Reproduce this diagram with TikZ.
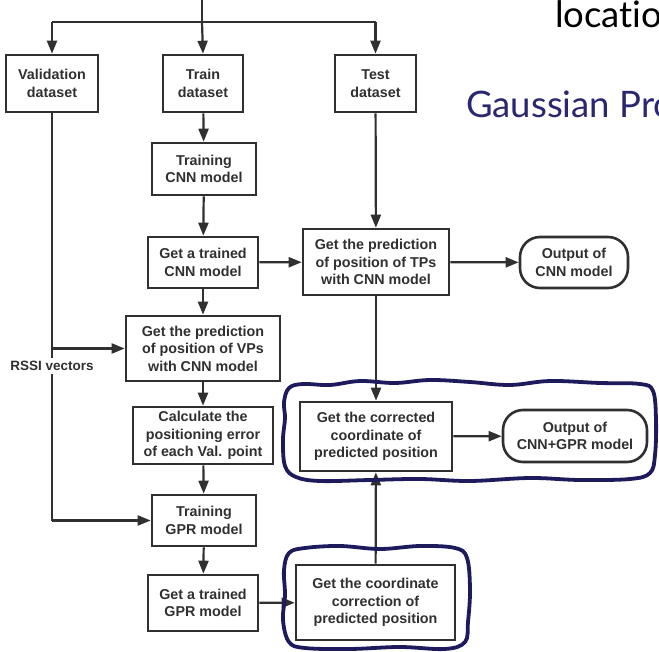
\documentclass[tikz,border=0pt]{standalone}
\usepackage{fontspec}
\setmainfont{Liberation Sans}
\newfontfamily\slidefont[Ligatures=NoCommon]{Lato}
\usetikzlibrary{arrows.meta}
\definecolor{ink}{HTML}{303030}
\definecolor{navy}{HTML}{1E1B5C}
\definecolor{titleblue}{HTML}{2A2670}
\tikzset{
  stepbox/.style={draw=ink, line width=2.6pt, fill=white, align=center,
    font=\fontsize{14.3}{17.5}\selectfont\bfseries, text=ink, inner sep=0pt},
  outbox/.style={stepbox, rounded corners=20pt},
  flow/.style={draw=ink, line width=2.2pt,
    -{Triangle[length=13pt,width=10pt]}},
  plain/.style={draw=ink, line width=2.2pt},
  ring/.style={draw=navy, line width=3.8pt, line join=round},
  slidetext/.style={anchor=base west, inner sep=0pt,
    font=\slidefont\fontsize{36.5}{42}\selectfont},
}
\begin{document}
\begin{tikzpicture}[x=1pt, y=-1pt]
\useasboundingbox (0,0) rectangle (659,652);
\begin{scope}
\clip (0,0) rectangle (659,652);

% slide text behind the chart
\node[slidetext] (loc) at (555,28) {location};
\node[slidetext, text=titleblue] (gpr) at (466,118) {Gaussian Process};

% process boxes
\node[stepbox, minimum width=92pt,  minimum height=57pt] (val)  at (52,83.5)  {Validation\\dataset};
\node[stepbox, minimum width=80pt,  minimum height=57pt] (trn)  at (203,83.5) {Train\\dataset};
\node[stepbox, minimum width=81pt,  minimum height=57pt] (tst)  at (375.5,83.5) {Test\\dataset};
\node[stepbox, minimum width=104pt, minimum height=52pt] (tcnn) at (204,169)  {Training\\CNN model};
\node[stepbox, minimum width=110pt, minimum height=51pt] (gcnn) at (203,262.5) {Get a trained\\CNN model};
\node[stepbox, minimum width=146pt, minimum height=66pt] (tps)  at (376,262)  {Get the prediction\\of position of TPs\\with CNN model};
\node[outbox,  minimum width=108pt, minimum height=51pt] (ocnn) at (574,262.5) {Output of\\CNN model};
\node[stepbox, minimum width=154pt, minimum height=65pt] (vps)  at (203,348.5) {Get the prediction\\of position of VPs\\with CNN model};
\node[stepbox, minimum width=140pt, minimum height=57pt] (err)  at (203,435.5) {Calculate the\\positioning error\\of each Val. point};
\node[stepbox, minimum width=104pt, minimum height=51pt] (tgpr) at (204,520.5) {Training\\GPR model};
\node[stepbox, minimum width=110pt, minimum height=56pt] (ggpr) at (203,603)  {Get a trained\\GPR model};
\node[stepbox, minimum width=159pt, minimum height=75pt] (corr) at (375.5,602.5) {Get the coordinate\\correction of\\predicted position};
\node[stepbox, minimum width=152pt, minimum height=69pt] (fix)  at (376,436.5) {Get the corrected\\coordinate of\\predicted position};
\node[outbox,  minimum width=144pt, minimum height=52pt] (ogpr) at (575,436)  {Output of\\CNN+GPR model};

% input split
\coordinate (src)  at (202,0);
\coordinate (fork) at (202,22);
\coordinate (fl)   at (52,22);
\coordinate (fr)   at (375.5,22);
\draw[plain] (src) -- (fork);
\draw[plain] (fl) -- (fr);
\draw[flow] (fl) -- (val.north);
\draw[flow] (fork) -- (trn.north);
\draw[flow] (fr) -- (tst.north);

% CNN branch
\draw[flow] (trn) -- (tcnn);
\draw[flow] (tcnn) -- (gcnn);
\draw[flow] (gcnn) -- (tps);
\draw[flow] (tst) -- (tps);
\draw[flow] (tps) -- (ocnn);
\draw[flow] (gcnn) -- (vps);
\draw[flow] (vps) -- (err);
\draw[flow] (err) -- (tgpr);
\draw[flow] (tgpr) -- (ggpr);
\draw[flow] (ggpr) -- (corr);
\draw[flow] (corr) -- (fix);
\draw[flow] (tps) -- (fix);
\draw[flow] (fix) -- (ogpr);

% validation RSSI vectors
\coordinate (v1) at (52,348.5);
\coordinate (v2) at (52,520.5);
\draw[plain] (val.south) -- (v2);
\draw[flow] (v1) -- (vps.west);
\draw[flow] (v2) -- (tgpr.west);
\node[fill=white, inner xsep=1pt, inner ysep=3pt, text=ink,
  font=\fontsize{13.5}{16}\selectfont\bfseries] (rssi) at (52,366) {RSSI vectors};

% hand-drawn highlight rings
\draw[ring] plot[smooth cycle, tension=0.6] coordinates {
  (284,402) (289,388) (303,384) (330,385) (360,381) (395,383) (430,380)
  (470,382) (510,385) (550,381) (600,383) (640,384) (653,391) (656,420)
  (655,455) (650,473) (630,479) (580,480) (530,478) (470,481) (420,479)
  (370,480) (320,481) (296,477) (285,466) (283,440) (285,418)};
\draw[ring] plot[smooth cycle, tension=0.6] coordinates {
  (284,570) (289,553) (305,548) (340,546) (380,549) (420,546) (455,548)
  (467,558) (470,590) (468,622) (465,642) (445,649) (400,647) (350,649)
  (305,648) (289,642) (283,620) (285,595)};
\end{scope}
\end{tikzpicture}
\end{document}
